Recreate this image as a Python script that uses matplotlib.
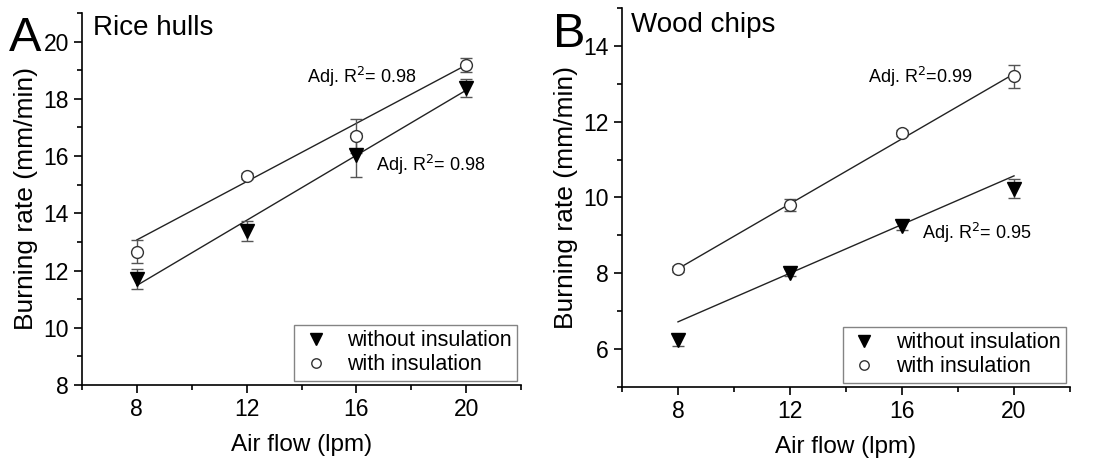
import numpy as np
import matplotlib.pyplot as plt
from matplotlib.ticker import MultipleLocator

plt.rcParams['font.family'] = ['Liberation Sans', 'DejaVu Sans']

air_flow = [8, 12, 16, 20]

# Rice hulls
rice_without = [11.70, 13.38, 16.04, 18.38]
rice_without_err = [0.35, 0.35, 0.77, 0.30]
rice_with = [12.65, 15.31, 16.70, 19.19]
rice_with_err = [0.40, 0.10, 0.60, 0.25]
rice_fit_without = [11.48, 18.30]   # fitted values at 8 and 20 lpm
rice_fit_with = [13.07, 19.18]
rice_r2 = ["0.98", "0.98"]

# Wood chips
wood_without = [6.24, 8.02, 9.24, 10.23]
wood_without_err = [0.15, 0.10, 0.10, 0.25]
wood_with = [8.12, 9.80, 11.69, 13.20]
wood_with_err = [0.08, 0.15, 0.08, 0.30]
wood_fit_without = [6.72, 10.57]
wood_fit_with = [8.12, 13.26]
wood_r2 = ["0.95", "0.99"]

fig = plt.figure(figsize=(10.96, 4.63), dpi=100)
axA = fig.add_axes([0.0748, 0.1685, 0.4006, 0.8035])
axB = fig.add_axes([0.5675, 0.164, 0.4088, 0.819])


def panel(ax, wo, wo_err, wi, wi_err, fit_wo, fit_wi, ylim, ymaj):
    fit_x = [air_flow[0], air_flow[-1]]
    ax.plot(fit_x, fit_wi, color='#222222', lw=1.0, zorder=2)
    ax.plot(fit_x, fit_wo, color='#222222', lw=1.0, zorder=2)
    ax.errorbar(air_flow, wo, yerr=wo_err, fmt='v', ms=10, mfc='black',
                mec='black', ecolor='#555555', elinewidth=1, capsize=4,
                capthick=1, label='without insulation', zorder=3)
    ax.errorbar(air_flow, wi, yerr=wi_err, fmt='o', ms=8.5, mfc='white',
                mec='#333333', mew=1, ecolor='#555555', elinewidth=1,
                capsize=4, capthick=1, label='with insulation', zorder=3)
    ax.set_xlim(6, 22)
    ax.set_ylim(*ylim)
    ax.xaxis.set_major_locator(MultipleLocator(4))
    ax.xaxis.set_minor_locator(MultipleLocator(2))
    ax.yaxis.set_major_locator(MultipleLocator(ymaj))
    ax.yaxis.set_minor_locator(MultipleLocator(ymaj / 2))
    for s in ['top', 'right']:
        ax.spines[s].set_visible(False)
    for s in ['left', 'bottom']:
        ax.spines[s].set_linewidth(1.2)
    ax.tick_params(which='major', direction='out', length=6, width=1.2,
                   labelsize=16.5)
    ax.tick_params(which='minor', direction='out', length=3.5, width=1.2)
    ax.set_xlabel('Air flow (lpm)', fontsize=17.5, labelpad=9)
    ax.set_ylabel('Burning rate (mm/min)', fontsize=19, labelpad=4)
    handles, labels = ax.get_legend_handles_labels()
    handles = [h[0] for h in handles]
    leg = ax.legend(handles, labels, loc='lower right',
                    bbox_to_anchor=(1.0, 0.0), fontsize=15.5, frameon=True,
                    fancybox=False, edgecolor='#666666', borderaxespad=0.2,
                    handletextpad=0.7, labelspacing=0.15, borderpad=0.25,
                    handlelength=1.5, markerscale=0.8)
    leg.get_frame().set_linewidth(1.0)


panel(axA, rice_without, rice_without_err, rice_with, rice_with_err,
      rice_fit_without, rice_fit_with, (8, 21), 2)
panel(axB, wood_without, wood_without_err, wood_with, wood_with_err,
      wood_fit_without, wood_fit_with, (5, 15), 2)

axA.text(14.2, 18.77, 'Adj. R$^{2}$= ' + rice_r2[1], fontsize=13, va='center')
axA.text(16.7, 15.7, 'Adj. R$^{2}$= ' + rice_r2[0], fontsize=13, va='center')
axB.text(14.8, 13.18, 'Adj. R$^{2}$=' + wood_r2[1], fontsize=13, va='center')
axB.text(16.7, 9.06, 'Adj. R$^{2}$= ' + wood_r2[0], fontsize=13, va='center')

fig.text(0.008, 0.965, 'A', fontsize=35, va='top', ha='left')
fig.text(0.505, 0.975, 'B', fontsize=35, va='top', ha='left')
fig.text(0.085, 0.94, 'Rice hulls', fontsize=20, va='center', ha='left')
fig.text(0.576, 0.945, 'Wood chips', fontsize=20, va='center', ha='left')

fig.savefig('out.png', dpi=100)
